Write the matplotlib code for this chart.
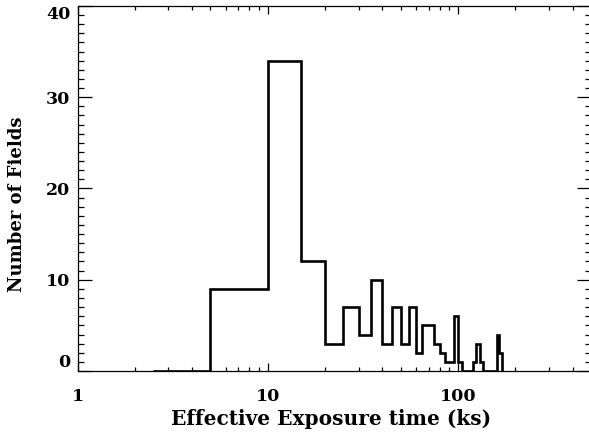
import matplotlib
matplotlib.use("Agg")
import matplotlib.pyplot as plt
import numpy as np

# Bin edges (ks) and counts
bin_edges = [2.5, 5, 10, 15, 20, 25, 30, 35, 40, 45, 50, 55, 60, 65, 70, 75, 80,
             85, 90, 95, 100, 105, 110, 115, 120, 125, 130, 135, 140, 145, 150,
             155, 160, 165, 170]
counts = [0, 9, 34, 12, 3, 7, 4, 10, 3, 7, 3, 7, 2, 5, 5, 3, 2,
          1, 1, 6, 1, 0, 0, 0, 1, 3, 1, 0, 0, 0, 0,
          0, 4, 2]
xticks = [1, 10, 100]
xticklabels = ["1", "10", "100"]
yticks = [0, 10, 20, 30, 40]
yticklabels = ["0", "10", "20", "30", "40"]

plt.rcParams['font.family'] = ['DejaVu Serif']
plt.rcParams['font.weight'] = 'bold'

fig = plt.figure(figsize=(5.89, 4.36), dpi=100)
W, H = 589, 436
l, r, t, b = 77.5, 591.0, 6.0, 371.0
ax = fig.add_axes([l / W, 1 - b / H, (r - l) / W, (b - t) / H])

ax.stairs(counts, bin_edges, color='black', linewidth=1.9, baseline=0)

ax.set_xscale('log')
ax.set_xlim(1, 500)
ax.set_ylim(0, 40)

ax.set_xticks(xticks)
ax.set_xticklabels(xticklabels)
ax.set_yticks(yticks)
ax.set_yticklabels(yticklabels)
ax.yaxis.set_minor_locator(matplotlib.ticker.MultipleLocator(1))
ax.xaxis.set_minor_locator(matplotlib.ticker.LogLocator(base=10, subs=np.arange(2, 10)))
ax.xaxis.set_minor_formatter(matplotlib.ticker.NullFormatter())

ax.tick_params(which='both', direction='in', top=True, right=True, width=0.9, color='black')
ax.tick_params(axis='x', which='major', length=6, pad=12, labelsize=12.5)
ax.tick_params(axis='x', which='minor', length=3)
ax.tick_params(axis='y', which='major', length=10, pad=5, labelsize=12.5)
ax.tick_params(axis='y', which='minor', length=4)

for s in ax.spines.values():
    s.set_linewidth(0.9)

labs = ax.get_yticklabels()
labs[0].set_va('bottom')
labs[-1].set_va('top')

ax.set_xlabel('Effective Exposure time (ks)', fontsize=14.5, fontweight='bold')
ax.set_ylabel('Number of Fields', fontsize=13, fontweight='bold')
ax.xaxis.set_label_coords((331.5 - l) / (r - l), (b - 409) / (b - t))
ax.yaxis.set_label_coords((26 - l) / (r - l), (b - 204) / (b - t))

fig.savefig('out.png', dpi=100)
